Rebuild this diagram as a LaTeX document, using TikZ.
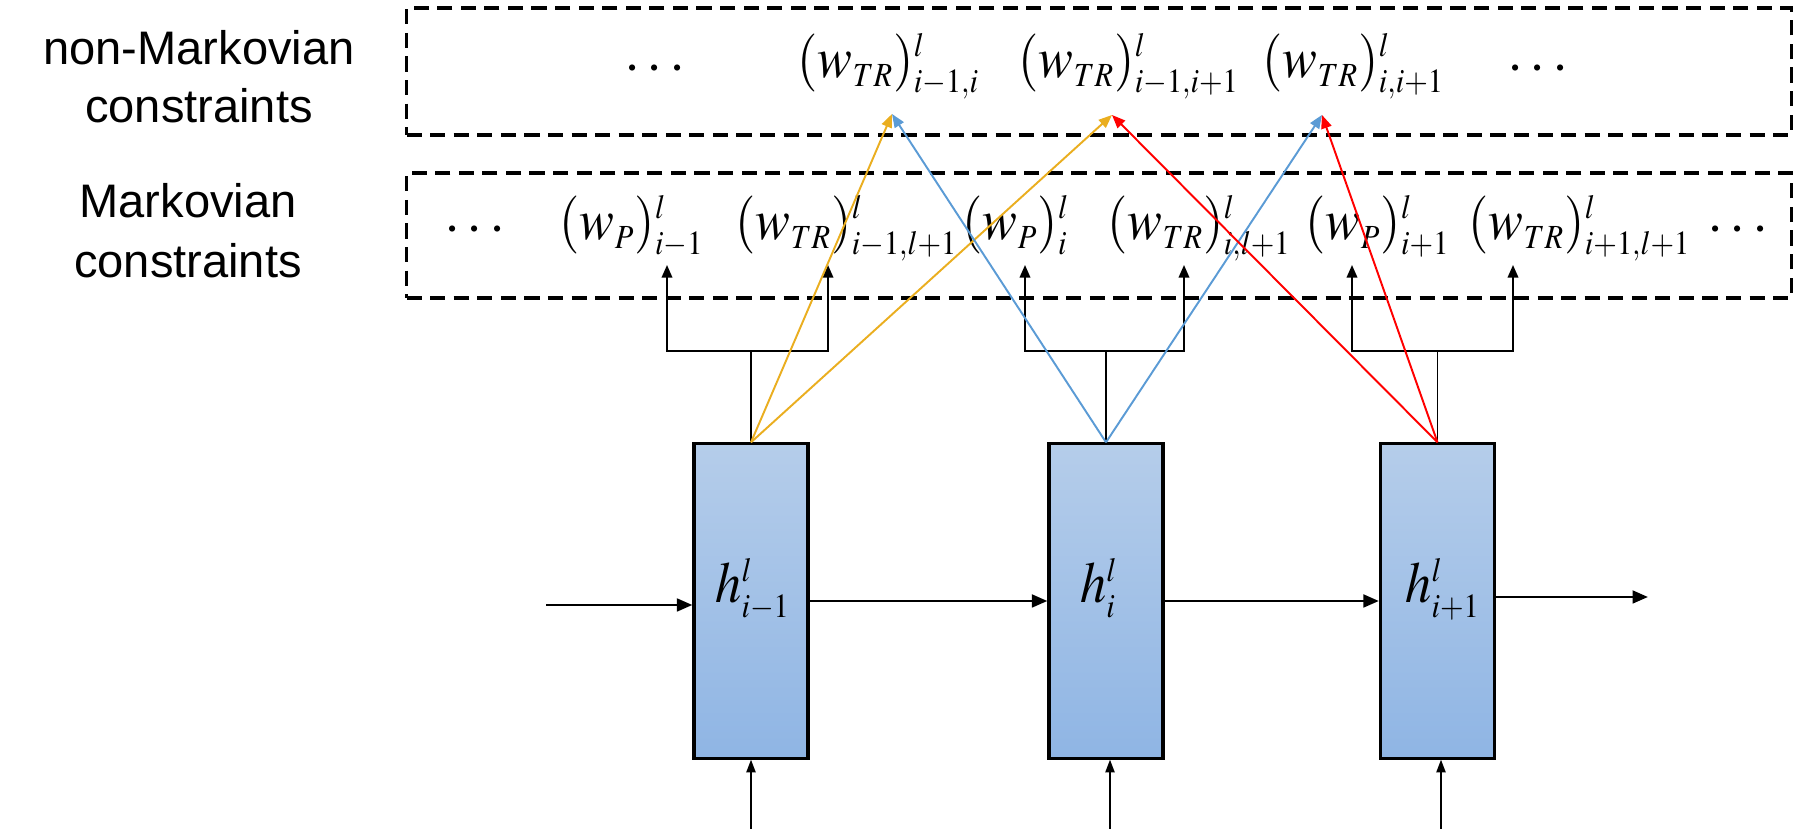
\documentclass[tikz,border=0pt]{standalone}
\usepackage{graphicx}
\usepackage{mathptmx}
\usepackage[no-math]{fontspec}
\newfontfamily\lsans{Liberation Sans}
\usetikzlibrary{arrows.meta}
\DeclareMathSizes{16.5}{16.5}{9.6}{7}
\definecolor{cgold}{RGB}{234,174,32}
\definecolor{cblue}{RGB}{91,155,213}
\definecolor{cred}{RGB}{255,0,0}
\definecolor{htop}{RGB}{181,205,234}
\definecolor{hbot}{RGB}{143,181,228}
\newcommand{\cm}[1]{\scalebox{0.9}[1]{$#1$}}
\begin{document}
\begin{tikzpicture}[x=0.01cm,y=-0.01cm,
  dbox/.style={draw, line width=0.95pt, dash pattern=on 4.3pt off 2.4pt, inner sep=0, minimum width=13.84cm},
  hbox/.style={draw, line width=0.9pt, top color=htop, bottom color=hbot, minimum width=1.14cm, minimum height=3.14cm, inner sep=0},
  lab/.style={font=\lsans\fontsize{13.38}{16}\selectfont, inner sep=0, anchor=base},
  mth/.style={font=\fontsize{16.5}{19}\selectfont, inner sep=0, anchor=base west},
  dots/.style={font=\fontsize{16.5}{19}\selectfont, inner sep=0, anchor=base},
  fork/.style={line width=0.55pt},
  forkarrow/.style={line width=0.55pt, -{Triangle[length=3.6pt,width=3pt]}},
  carrow/.style={line width=0.55pt, -{Triangle[length=3.8pt,width=3pt]}},
  harrow/.style={line width=0.8pt, -{Triangle[length=4.4pt,width=3.6pt]}},
  varrow/.style={line width=0.5pt, -{Triangle[length=3.6pt,width=2.6pt]}}]
\useasboundingbox (0,0) rectangle (1793,831);

% dashed containers
\node[dbox, minimum height=1.27cm] (topbox) at (1099,71.5) {};
\node[dbox, minimum height=1.25cm] (botbox) at (1099,235.5) {};

% left labels
\node[lab] (l1a) at (199,65) {non-Markovian};
\node[lab] (l1b) at (199,123) {constraints};
\node[lab] (l2a) at (188,218) {Markovian};
\node[lab] (l2b) at (188,278) {constraints};

% non-Markovian row
\node[dots] (td1) at (655,83) {$\cdots$};
\node[mth] (n1) at (797,78) {\cm{(w_{TR})^{l}_{i-1,i}}};
\node[mth] (n2) at (1018,78) {\cm{(w_{TR})^{l}_{i-1,i+1}}};
\node[mth] (n3) at (1262,78) {\cm{(w_{TR})^{l}_{i,i+1}}};
\node[dots] (td2) at (1538,83) {$\cdots$};

% Markovian row
\node[dots] (bd1) at (475,244) {$\cdots$};
\node[mth] (m1) at (559,240) {\cm{(w_{P})^{l}_{i-1}}};
\node[mth] (m2) at (735,240) {\cm{(w_{TR})^{l}_{i-1,l+1}}};
\node[mth] (m3) at (962,240) {\cm{(w_{P})^{l}_{i}}};
\node[mth] (m4) at (1107,240) {\cm{(w_{TR})^{l}_{i,l+1}}};
\node[mth] (m5) at (1305,240) {\cm{(w_{P})^{l}_{i+1}}};
\node[mth] (m6) at (1468,240) {\cm{(w_{TR})^{l}_{i+1,l+1}}};
\node[dots] (bd2) at (1738,244) {$\cdots$};

% hidden-state boxes
\node[hbox] (h1) at (751,601) {};
\node[hbox] (h2) at (1106,601) {};
\node[hbox] (h3) at (1437.5,601) {};
\node[dots] (hl1) at (753,603) {\cm{h^{l}_{i-1}}};
\node[dots] (hl2) at (1099,603) {\cm{h^{l}_{i}}};
\node[dots] (hl3) at (1443,603) {\cm{h^{l}_{i+1}}};

% fork points and arrow targets
\path (h1.north) ++(0,-91) coordinate (f1);
\path (h2.north) ++(0,-91) coordinate (f2);
\path (h3.north) ++(0,-91) coordinate (f3);
\coordinate (a1) at (667,265);
\coordinate (a2) at (828,265);
\coordinate (a3) at (1025,265);
\coordinate (a4) at (1184,265);
\coordinate (a5) at (1352,265);
\coordinate (a6) at (1513,265);
\coordinate (t1) at (892,114);
\coordinate (t2) at (1112,115);
\coordinate (t3) at (1322,115);

\draw[fork] (h1.north) -- (f1);
\draw[fork] (h2.north) -- (f2);
\draw[fork] (h3.north) -- (f3);
\draw[forkarrow] (f1) -| (a1);
\draw[forkarrow] (f1) -| (a2);
\draw[forkarrow] (f2) -| (a3);
\draw[forkarrow] (f2) -| (a4);
\draw[forkarrow] (f3) -| (a5);
\draw[forkarrow] (f3) -| (a6);

% non-Markovian connections
\draw[carrow, cgold] (h1.north) -- (t1);
\draw[carrow, cgold] (h1.north) -- (t2);
\draw[carrow, cblue] (h2.north) -- (t1);
\draw[carrow, cblue] (h2.north) -- (t3);
\draw[carrow, cred] (h3.north) -- (t2);
\draw[carrow, cred] (h3.north) -- (t3);

% recurrent connections
\coordinate (in0) at (546,605);
\coordinate (out0) at (1648,597);
\draw[harrow] (in0) -- (in0 -| h1.west);
\draw[harrow] (h1.east) -- (h2.west);
\draw[harrow] (h2.east) -- (h3.west);
\draw[harrow] (out0 -| h3.east) -- (out0);

% inputs
\coordinate (b1) at (751,829);
\coordinate (b2) at (1110,829);
\coordinate (b3) at (1441,829);
\draw[varrow] (b1) -- (b1 |- h1.south);
\draw[varrow] (b2) -- (b2 |- h2.south);
\draw[varrow] (b3) -- (b3 |- h3.south);
\end{tikzpicture}
\end{document}
